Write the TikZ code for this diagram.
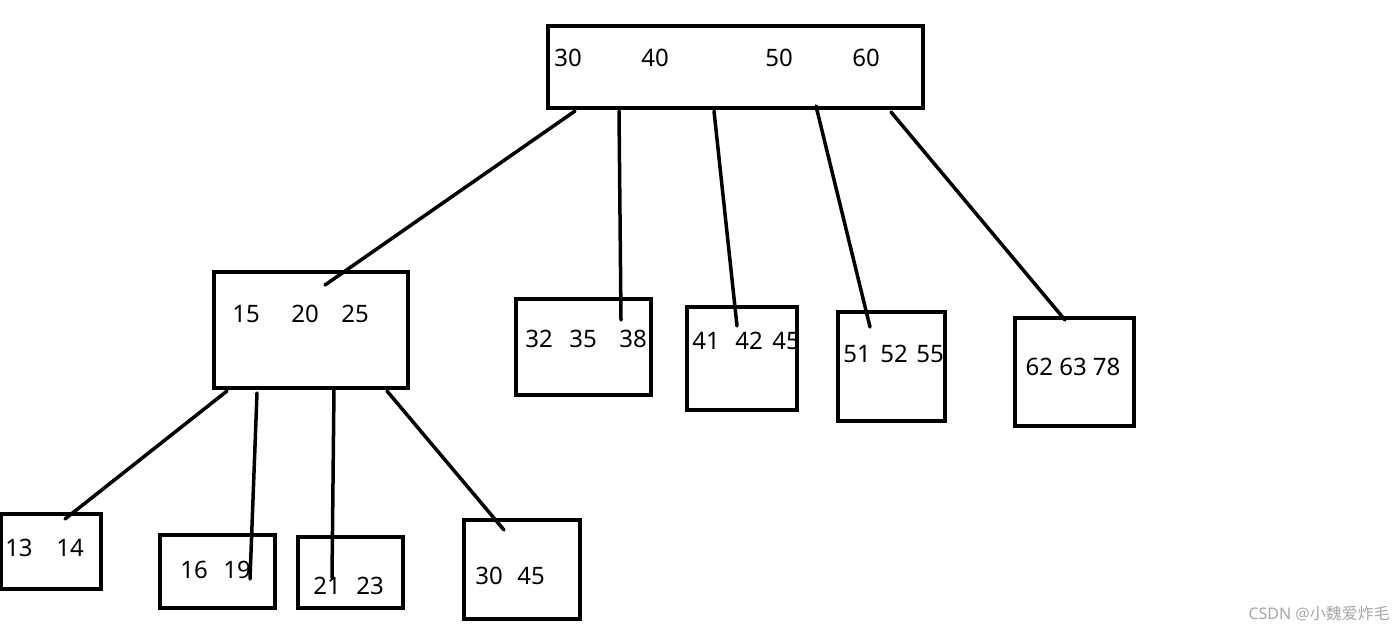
\documentclass[tikz,border=0pt]{standalone}
\usepackage{fontspec}
\setmainfont{Noto Sans}
\newfontfamily\cjkfont{Noto Sans CJK SC}
\begin{document}
\begin{tikzpicture}[x=1pt,y=-1pt,
  box/.style={draw=black,line width=3.5pt},
  link/.style={draw=black,line width=3.5pt,line cap=round},
  num/.style={inner sep=0pt,font=\fontsize{24}{27}\selectfont}]
\useasboundingbox (0,0) rectangle (1400,629);
% boxes
\draw[box] (548,26) rectangle (923,108);
\draw[box] (214,272) rectangle (408,388);
\draw[box] (516,299) rectangle (651,395);
\draw[box] (687,307) rectangle (797,410);
\draw[box] (838,312) rectangle (945,421);
\draw[box] (1015,318) rectangle (1134,426);
\draw[box] (1,514) rectangle (101,589);
\draw[box] (160,535) rectangle (275,608);
\draw[box] (298,537) rectangle (403,608);
\draw[box] (464,520) rectangle (580,619);
% texts
\node[num] (r30) at (568,58) {30};
\node[num] (r40) at (655,58) {40};
\node[num] (r50) at (779,58) {50};
\node[num] (r60) at (866,58) {60};
\node[num] (a15) at (246,314) {15};
\node[num] (a20) at (305,314) {20};
\node[num] (a25) at (355,314) {25};
\node[num] (b32) at (539,339) {32};
\node[num] (b35) at (583,339) {35};
\node[num] (b38) at (633,339) {38};
\node[num] (c41) at (706,341) {41};
\node[num] (c42) at (749,341) {42};
\node[num] (c45) at (786,341) {45};
\node[num] (d51) at (857,354) {51};
\node[num] (d52) at (894,354) {52};
\node[num] (d55) at (930,354) {55};
\node[num] (e62) at (1073,367) {62 63 78};
\node[num] (f13) at (19,548) {13};
\node[num] (f14) at (70,548) {14};
\node[num] (g16) at (194,570) {16};
\node[num] (g19) at (237,570) {19};
\node[num] (h21) at (327,586) {21};
\node[num] (h23) at (370,586) {23};
\node[num] (i30) at (489,576) {30};
\node[num] (i45) at (531,576) {45};
% connector ends
\coordinate (p1) at (575,111); \coordinate (q1) at (325,285);
\coordinate (p2) at (619,111); \coordinate (q2) at (621,320);
\coordinate (p3) at (714,111); \coordinate (q3) at (737,326);
\coordinate (p4) at (816,106); \coordinate (q4) at (870,327);
\coordinate (p5) at (891,112); \coordinate (q5) at (1065,320);
\coordinate (s1) at (227,391); \coordinate (t1) at (65,519);
\coordinate (s2) at (257,393); \coordinate (t2) at (250,579);
\coordinate (s3) at (334,388); \coordinate (t3) at (332,578);
\coordinate (s4) at (387,391); \coordinate (t4) at (504,530);
\draw[link] (p1) -- (q1);
\draw[link] (p2) -- (q2);
\draw[link] (p3) -- (q3);
\draw[link] (p4) -- (q4);
\draw[link] (p5) -- (q5);
\draw[link] (s1) -- (t1);
\draw[link] (s2) -- (t2);
\draw[link] (s3) -- (t3);
\draw[link] (s4) -- (t4);
% watermark
\node[anchor=east,inner sep=0pt,text=black!35,font=\fontsize{16}{18}\selectfont] (wm) at (1390,613) {CSDN @{\cjkfont 小魏爱炸毛}};
\end{tikzpicture}
\end{document}
